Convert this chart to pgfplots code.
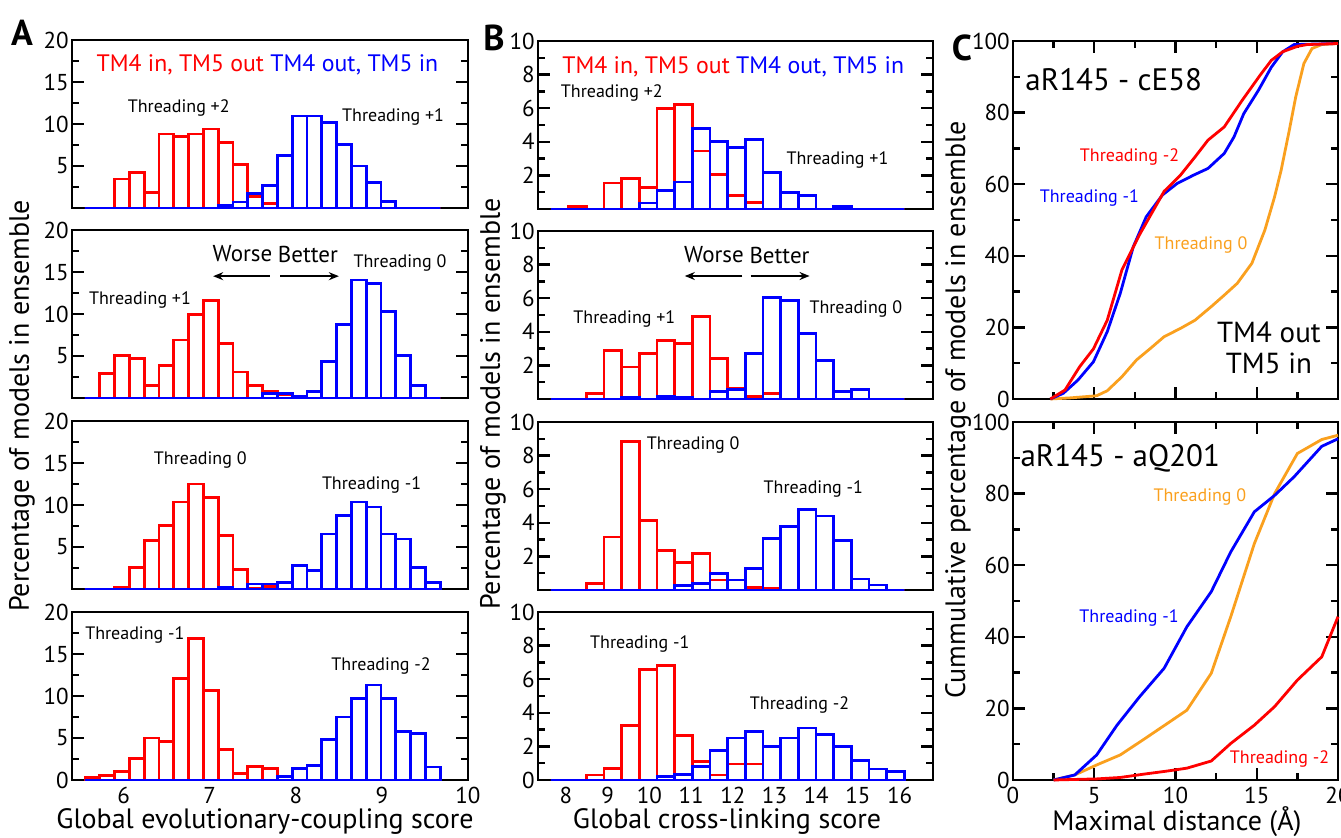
\documentclass[border=0pt]{standalone}
\usepackage{fontspec}
\setmainfont{PT Sans}
\usepackage{pgfplots}
\pgfplotsset{compat=1.18}
\usepackage{pgfplotstable}
\usetikzlibrary{arrows.meta}
\newcommand\fs[1]{\fontsize{#1}{#1}\selectfont}
\definecolor{cred}{RGB}{255,0,0}
\definecolor{cblue}{RGB}{0,0,255}
\definecolor{corange}{RGB}{250,160,30}
\tikzset{ann/.style={font=\fs{9}}}

% ---------- Panel A histograms ----------
\pgfplotstableread{
x r b
5.636 0 0
5.808 0 0
5.980 3.45 0
6.152 4.25 0
6.324 1.85 0
6.496 8.8 0
6.668 8.5 0
6.840 8.8 0
7.012 9.4 0
7.184 7.8 0.3
7.356 5.2 0.7
7.528 1.4 1.7
7.700 0.5 2.7
7.872 0 6.2
8.044 0 10.95
8.216 0 10.95
8.388 0 10.2
8.560 0 7.6
8.732 0 5.0
8.904 0 3.0
9.076 0 0.8
9.248 0 0
9.420 0 0
9.592 0 0
}\tAone
\pgfplotstableread{
x r b
5.636 0 0
5.808 2.9 0
5.980 5.1 0
6.152 4.7 0
6.324 1.5 0
6.496 3.9 0
6.668 6.9 0
6.840 9.9 0
7.012 11.65 0
7.184 6.5 0
7.356 3.1 0
7.528 1.5 0
7.700 0.75 0.5
7.872 0.4 0.5
8.044 0 0.2
8.216 0 0.75
8.388 0 4.35
8.560 0 8.7
8.732 0 14.05
8.904 0 13.65
9.076 0 10.3
9.248 0 5.1
9.420 0 1.5
9.592 0 0
}\tAtwo
\pgfplotstableread{
x r b
5.636 0 0
5.808 0 0
5.980 0.2 0
6.152 2.6 0
6.324 5.75 0
6.496 7.55 0
6.668 10.35 0
6.840 12.5 0
7.012 10.9 0
7.184 6.35 0.2
7.356 2.3 0
7.528 0.1 0.6
7.700 0.3 0.6
7.872 0 0.8
8.044 0 2.8
8.216 0 2.2
8.388 0 6.55
8.560 0 8.75
8.732 0 10.35
8.904 0 9.75
9.076 0 6.55
9.248 0 5.95
9.420 0 2.6
9.592 0 0.8
}\tAthree
\pgfplotstableread{
x r b
5.636 0.25 0
5.808 0.55 0
5.980 1.0 0
6.152 2.6 0
6.324 5.0 0
6.496 4.6 0
6.668 12.1 0
6.840 16.8 0
7.012 10.7 0
7.184 3.6 0
7.356 0.75 0
7.528 1.6 0
7.700 1.4 0
7.872 0 0.4
8.044 0 1.4
8.216 0 1.7
8.388 0 4.8
8.560 0 7.5
8.732 0 9.7
8.904 0 11.3
9.076 0 9.7
9.248 0 5.75
9.420 0 5.55
9.592 0 1.55
}\tAfour

% ---------- Panel B histograms ----------
\pgfplotstableread{
x r b
7.852 0 0
8.276 0.15 0
8.699 0 0
9.123 1.55 0
9.546 1.8 0
9.970 1.3 0.35
10.393 6.0 1.1
10.817 6.2 1.6
11.240 3.45 4.8
11.664 2.05 4.0
12.087 0.8 3.65
12.511 0.4 4.15
12.934 0 2.15
13.358 0 1.0
13.781 0 0.8
14.205 0 0
14.628 0 0.15
15.052 0 0
15.475 0 0
15.899 0 0
}\tBone
\pgfplotstableread{
x r b
7.852 0 0
8.276 0 0
8.699 0.35 0
9.123 2.9 0
9.546 1.9 0.1
9.970 2.7 0
10.393 3.5 0.15
10.817 3.3 0.1
11.240 4.9 0
11.664 2.4 0.45
12.087 0.65 0.55
12.511 0.15 2.7
12.934 0.35 6.05
13.358 0 5.85
13.781 0 3.9
14.205 0 2.3
14.628 0 0.45
15.052 0 0.55
15.475 0 0
15.899 0 0
}\tBtwo
\pgfplotstableread{
x r b
7.852 0 0
8.276 0 0
8.699 0.4 0
9.123 3.15 0
9.546 8.85 0
9.970 4.15 0
10.393 2.35 0
10.817 1.65 0.25
11.240 2.15 0.4
11.664 0.6 1.0
12.087 0 0.6
12.511 0.15 1.3
12.934 0.1 3.05
13.358 0 3.8
13.781 0 4.8
14.205 0 4.4
14.628 0 2.95
15.052 0 0.65
15.475 0 0.3
15.899 0 0
}\tBthree
\pgfplotstableread{
x r b
7.852 0 0
8.276 0 0
8.699 0.3 0
9.123 0.7 0
9.546 3.25 0
9.970 6.6 0
10.393 6.8 0.2
10.817 2.65 0.35
11.240 1.1 0.8
11.664 0.3 1.75
12.087 0.95 2.5
12.511 0.95 2.9
12.934 0 2.0
13.358 0 2.5
13.781 0 3.1
14.205 0 2.7
14.628 0 2.0
15.052 0 1.15
15.475 0 0.65
15.899 0 0.5
}\tBfour

% ---------- Panel C cumulative curves ----------
\pgfplotstableread{
x y
2.3 0
3.2 2.5
4.1 9
4.95 14
5.8 22
6.7 36
7.8 46
9.3 58
10.3 62.5
11.2 67.6
12.0 72.3
13.0 76
14.1 83.4
15.2 90.4
15.9 94.6
16.6 97
17.5 98.5
18.1 99
20 99.3
}\tConeR
\pgfplotstableread{
x y
2.3 0
3.1 1.6
4.0 5.3
4.95 10.4
5.8 18.8
6.6 29.5
7.4 42.5
8.2 50.9
9.2 57
10.1 60.2
11.1 62.5
12.0 64.4
13.0 68.6
13.6 73.2
14.2 79.7
15.1 86.2
15.9 92.7
16.6 97
17.3 99
20 99.3
}\tConeB
\pgfplotstableread{
x y
2.3 0
3.5 0.3
5.15 0.9
5.8 2.3
6.7 6.2
7.6 10.9
8.45 14.1
9.3 17.4
10.3 19.7
11.2 22
12.2 25.8
13.0 29
13.8 32.3
14.7 37.9
15.5 47.2
16.1 56.5
16.5 63.9
17.0 75
17.4 84.4
17.9 93.7
18.4 97.9
19.0 99
20 99.3
}\tConeO
\pgfplotstableread{
x y
2.5 0
3.8 1.4
5.15 7
6.4 15.3
7.8 23.3
9.3 31.2
10.7 42.8
12.2 52.6
13.4 63.7
14.85 74.9
16.1 79.5
17.3 84.7
19.0 93.2
20 95.3
}\tCtwoB
\pgfplotstableread{
x y
2.5 0
3.8 1.4
5.15 4.2
6.6 7
8.0 11.2
9.5 15.8
10.7 19.5
12.2 29.8
13.4 45.6
14.85 66
16.1 80
17.5 91.2
19.0 95.1
20 96.3
}\tCtwoO
\pgfplotstableread{
x y
2.5 0
5.15 0.3
6.6 0.7
8.0 1.6
9.5 2.5
10.7 3.3
12.2 5.3
13.4 10.2
14.85 15.3
16.1 20.5
17.5 27.9
19.0 34.4
20 45.6
}\tCtwoR

\pgfplotsset{
  base/.style={scale only axis, tick align=inside,
    axis line style={line width=1.4pt},
    every tick/.append style={black, line width=1.2pt},
    major tick length=6pt, minor tick length=3.5pt,
    tick label style={font=\fs{11.5}},
    yticklabel style={inner xsep=1.5pt},
    /pgf/number format/assume math mode=true,
    clip=false},
  histA/.style={base, width=198pt, height=84pt, xmin=5.4, xmax=10, ymin=0, ymax=20,
    xtick={6,7,8,9,10}, xticklabels={}, xtick style={draw=none},
    ytick={5,10,15,20}, minor ytick={2.5,7.5,12.5,17.5}},
  histB/.style={base, width=197.5pt, height=84pt, xmin=7.33, xmax=16.8, ymin=0, ymax=10,
    xtick={8,...,16}, xticklabels={}, xtick style={draw=none},
    ytick={2,4,6,8,10}, minor ytick={1,3,5,7,9}},
  cumC/.style={base, width=162.5pt, height=179pt, xmin=0, xmax=20, ymin=0, ymax=100,
    xtick={0,5,10,15,20}, minor xtick={2.5,7.5,12.5,17.5},
    ytick={0,20,40,60,80,100}, minor ytick={10,30,50,70,90}},
  rA/.style={ybar, bar shift=0pt, bar width=0.172, draw=cred, fill=none, line width=1.4pt},
  bA/.style={ybar, bar shift=0pt, bar width=0.172, draw=cblue, fill=none, line width=1.4pt},
  rB/.style={ybar, bar shift=0pt, bar width=0.4235, draw=cred, fill=none, line width=1.4pt},
  bB/.style={ybar, bar shift=0pt, bar width=0.4235, draw=cblue, fill=none, line width=1.4pt},
}

\begin{document}
\begin{tikzpicture}
\useasboundingbox (0,0) rectangle (670.5pt,419pt);

% ================= Panel A =================
\begin{axis}[histA, at={(36pt,315pt)}, anchor=south west]
\addplot[rA] table[x=x,y=r]{\tAone};
\addplot[bA] table[x=x,y=b]{\tAone};
\node[font=\fs{11.9}] at (axis cs:7.67,17.1) {\textcolor{cred}{TM4 in, TM5 out} \textcolor{cblue}{TM4 out, TM5 in}};
\node[ann] at (axis cs:6.64,11.86) {Threading +2};
\node[ann] at (axis cs:9.13,10.8) {Threading +1};
\end{axis}

\begin{axis}[histA, at={(36pt,220pt)}, anchor=south west]
\addplot[rA] table[x=x,y=r]{\tAtwo};
\addplot[bA] table[x=x,y=b]{\tAtwo};
\node[font=\fs{11.5}] at (axis cs:7.38,17.14) {Worse};
\node[font=\fs{11.5}] at (axis cs:8.14,17.14) {Better};
\draw[-{Stealth[length=5pt,width=4pt]}, line width=0.8pt] (axis cs:7.70,14.5) -- (axis cs:7.04,14.5);
\draw[-{Stealth[length=5pt,width=4pt]}, line width=0.8pt] (axis cs:7.82,14.5) -- (axis cs:8.5,14.5);
\node[ann] at (axis cs:9.21,16.07) {Threading 0};
\node[ann] at (axis cs:6.19,11.67) {Threading +1};
\end{axis}

\begin{axis}[histA, at={(36pt,124.5pt)}, anchor=south west]
\addplot[rA] table[x=x,y=r]{\tAthree};
\addplot[bA] table[x=x,y=b]{\tAthree};
\node[ann] at (axis cs:6.89,15.33) {Threading 0};
\node[ann] at (axis cs:8.88,12.33) {Threading -1};
\end{axis}

\begin{axis}[histA, at={(36pt,29pt)}, anchor=south west,
  ytick={0,5,10,15,20}, xticklabels={6,7,8,9,10}]
\addplot[rA] table[x=x,y=r]{\tAfour};
\addplot[bA] table[x=x,y=b]{\tAfour};
\node[ann] at (axis cs:6.13,17.26) {Threading -1};
\node[ann] at (axis cs:8.99,13.57) {Threading -2};
\end{axis}

% ================= Panel B =================
\begin{axis}[histB, at={(269pt,314.5pt)}, anchor=south west]
\addplot[rB] table[x=x,y=r]{\tBone};
\addplot[bB] table[x=x,y=b]{\tBone};
\node[font=\fs{11.9}] at (axis cs:12.01,8.46) {\textcolor{cred}{TM4 in, TM5 out} \textcolor{cblue}{TM4 out, TM5 in}};
\node[ann] at (axis cs:9.10,6.92) {Threading +2};
\node[ann] at (axis cs:14.51,2.9) {Threading +1};
\end{axis}

\begin{axis}[histB, at={(269pt,219.5pt)}, anchor=south west]
\addplot[rB] table[x=x,y=r]{\tBtwo};
\addplot[bB] table[x=x,y=b]{\tBtwo};
\node[font=\fs{11.5}] at (axis cs:11.55,8.57) {Worse};
\node[font=\fs{11.5}] at (axis cs:13.12,8.57) {Better};
\draw[-{Stealth[length=5pt,width=4pt]}, line width=0.8pt] (axis cs:12.23,7.32) -- (axis cs:10.85,7.32);
\draw[-{Stealth[length=5pt,width=4pt]}, line width=0.8pt] (axis cs:12.43,7.32) -- (axis cs:13.84,7.32);
\node[ann] at (axis cs:14.95,5.36) {Threading 0};
\node[ann] at (axis cs:9.40,4.76) {Threading +1};
\end{axis}

\begin{axis}[histB, at={(269pt,124pt)}, anchor=south west]
\addplot[rB] table[x=x,y=r]{\tBthree};
\addplot[bB] table[x=x,y=b]{\tBthree};
\node[ann] at (axis cs:11.05,8.62) {Threading 0};
\node[ann] at (axis cs:13.93,5.99) {Threading -1};
\end{axis}

\begin{axis}[histB, at={(269pt,29pt)}, anchor=south west,
  ytick={0,2,4,6,8,10}, xticklabels={8,9,10,11,12,13,14,15,16}]
\addplot[rB] table[x=x,y=r]{\tBfour};
\addplot[bB] table[x=x,y=b]{\tBfour};
\node[ann] at (axis cs:9.77,8.1) {Threading -1};
\node[ann] at (axis cs:13.6,4.46) {Threading -2};
\end{axis}

% ================= Panel C =================
\begin{axis}[cumC, at={(506.5pt,219.5pt)}, anchor=south west, xticklabels={}]
\addplot[corange, line width=1.4pt] table[x=x,y=y]{\tConeO};
\addplot[cblue, line width=1.4pt] table[x=x,y=y]{\tConeB};
\addplot[cred, line width=1.4pt] table[x=x,y=y]{\tConeR};
\node[font=\fs{15.5}] at (axis cs:6.2,89.1) {aR145 - cE58};
\node[ann, text=cred] at (axis cs:7.17,67.6) {Threading -2};
\node[ann, text=cblue] at (axis cs:4.7,56.1) {Threading -1};
\node[ann, text=corange] at (axis cs:11.57,43.0) {Threading 0};
\node[font=\fs{14.5}, inner sep=0pt] at (axis cs:15.75,18.7) {TM4 out};
\node[font=\fs{14.5}, inner sep=0pt] at (axis cs:15.75,10.0) {TM5 in};
\end{axis}

\begin{axis}[cumC, at={(506.5pt,29pt)}, anchor=south west]
\addplot[corange, line width=1.4pt] table[x=x,y=y]{\tCtwoO};
\addplot[cblue, line width=1.4pt] table[x=x,y=y]{\tCtwoB};
\addplot[cred, line width=1.4pt] table[x=x,y=y]{\tCtwoR};
\node[font=\fs{15.5}] at (axis cs:6.6,89.9) {aR145 - aQ201};
\node[ann, text=corange] at (axis cs:11.5,79) {Threading 0};
\node[ann, text=cblue] at (axis cs:7.14,45.2) {Threading -1};
\node[ann, text=cred] at (axis cs:16.4,5.9) {Threading -2};
\end{axis}

% ================= Labels =================
\node[rotate=90, font=\fs{14}] at (11pt,216pt) {Percentage of models in ensemble};
\node[rotate=90, font=\fs{14}] at (246.5pt,217pt) {Percentage of models in ensemble};
\node[rotate=90, font=\fs{14}] at (479pt,214pt) {Cummulative percentage of models in ensemble};
\node[font=\fs{14}] at (132.5pt,8pt) {Global evolutionary-coupling score};
\node[font=\fs{14}] at (363.5pt,8pt) {Global cross-linking score};
\node[font=\fs{14}] at (588.5pt,8pt) {Maximal distance (Å)};
\node[font=\fs{18}\bfseries] at (11pt,402.5pt) {A};
\node[font=\fs{18}\bfseries] at (247pt,400pt) {B};
\node[font=\fs{18}\bfseries] at (481pt,395pt) {C};
\end{tikzpicture}
\end{document}
